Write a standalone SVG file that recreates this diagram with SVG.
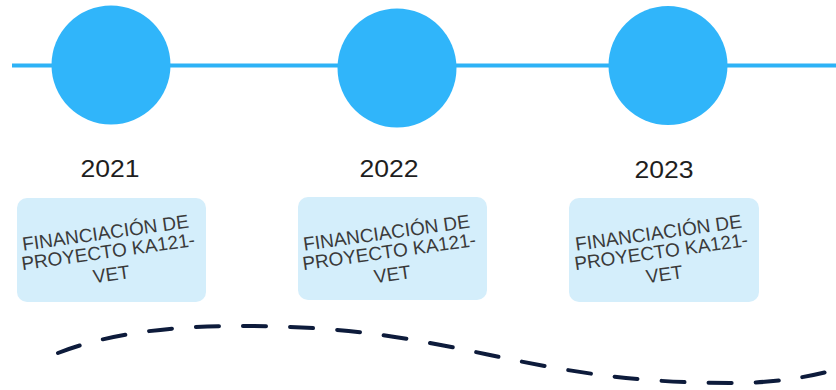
<svg xmlns="http://www.w3.org/2000/svg" width="836" height="390" viewBox="0 0 836 390">
  <style>
    .dot { fill: #30b5fa; }
    .year { font-family: "Liberation Sans", Arial, sans-serif; font-size: 24px; fill: #1e1e1e; text-anchor: middle; }
    .box { fill: #d4eefb; }
    .lbl { font-family: "Liberation Sans", Arial, sans-serif; font-size: 19px; fill: #3a3a3a; text-anchor: middle; }
    .axis { stroke: #2db2f6; stroke-width: 4; fill: none; }
    .wave { stroke: #0d1b3b; stroke-width: 4; fill: none; stroke-dasharray: 23 24; stroke-linecap: round; }
  </style>
  <g id="connectors">
    <line class="axis" x1="12" y1="65.5" x2="836" y2="65.5"/>
    <path class="wave" d="M58,353 Q130,325 245,326 C458,326 517,383 730,383 C775,383 805,378 842,368"/>
  </g>
  <g id="node-2021">
    <circle class="dot" cx="111" cy="65" r="59.5"/>
    <text class="year" x="110" y="177" textLength="59" lengthAdjust="spacingAndGlyphs">2021</text>
    <rect class="box" x="17" y="198" width="189" height="104" rx="10"/>
    <g transform="translate(109 258) rotate(-8)">
      <text class="lbl" x="0" y="-19">FINANCIACIÓN DE</text>
      <text class="lbl" x="0" y="0">PROYECTO KA121-</text>
      <text class="lbl" x="0" y="23">VET</text>
    </g>
  </g>
  <g id="node-2022">
    <circle class="dot" cx="397" cy="68" r="59.5"/>
    <text class="year" x="389" y="177" textLength="59" lengthAdjust="spacingAndGlyphs">2022</text>
    <rect class="box" x="298" y="197" width="189" height="103" rx="10"/>
    <g transform="translate(390 258) rotate(-8)">
      <text class="lbl" x="0" y="-19">FINANCIACIÓN DE</text>
      <text class="lbl" x="0" y="0">PROYECTO KA121-</text>
      <text class="lbl" x="0" y="23">VET</text>
    </g>
  </g>
  <g id="node-2023">
    <circle class="dot" cx="668" cy="65.5" r="59.5"/>
    <text class="year" x="664" y="178" textLength="59" lengthAdjust="spacingAndGlyphs">2023</text>
    <rect class="box" x="569" y="198" width="190" height="104" rx="10"/>
    <g transform="translate(662 258) rotate(-8)">
      <text class="lbl" x="0" y="-19">FINANCIACIÓN DE</text>
      <text class="lbl" x="0" y="0">PROYECTO KA121-</text>
      <text class="lbl" x="0" y="23">VET</text>
    </g>
  </g>
</svg>
